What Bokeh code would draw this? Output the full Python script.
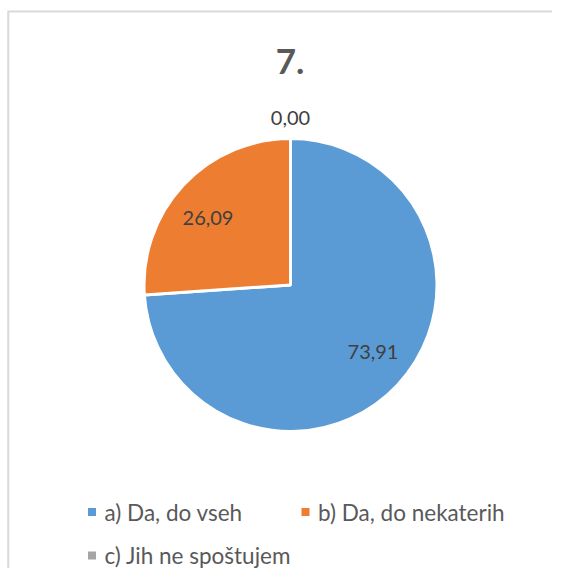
import numpy as np
from bokeh.plotting import figure
from bokeh.models import Range1d, ColumnDataSource
from bokeh.core.properties import value
from bokeh.embed import file_html
from bokeh.resources import INLINE

title = "7."
categories = ["a) Da, do vseh", "b) Da, do nekaterih", "c) Jih ne spoštujem"]
values = [73.91, 26.09, 0.00]
labels = ["73,91", "26,09", "0,00"]
colors = ["#5B9BD5", "#ED7D31", "#A5A5A5"]

W, H = 552, 568
FONT = "Lato"
OX, OY = 7, -7  # layout offset

p = figure(width=W, height=H, output_backend="svg", toolbar_location=None,
           x_range=Range1d(0, W), y_range=Range1d(0, H), min_border=0)
p.axis.visible = False
p.grid.visible = False
p.outline_line_color = None
p.background_fill_color = "white"
p.border_fill_color = "white"

# chart frame (top and left edges visible)
p.line(x=[0.75 + OX, 0.75 + OX], y=[0, 564 + OY], line_color="#D9D9D9", line_width=2)
p.line(x=[OX, W], y=[564 + OY, 564 + OY], line_color="#D9D9D9", line_width=2)

# pie
cx, cy, R = 283 + OX, 290.5 + OY, 146.5
vals = np.array(values, dtype=float)
frac = vals / vals.sum()
ends = np.pi / 2 - 2 * np.pi * np.cumsum(frac)
starts = np.concatenate([[np.pi / 2], ends[:-1]])
nz = frac > 0
src = ColumnDataSource(dict(start=starts[nz], end=ends[nz], color=np.array(colors)[nz]))
p.wedge(x=cx, y=cy, radius=R, radius_units="screen", start_angle="start", end_angle="end",
        direction="clock", fill_color="color", line_color="white", line_width=3, source=src)

# data labels
shift = np.deg2rad(4)
lx, ly = [], []
for s, e, f in zip(starts, ends, frac):
    mid = (s + e) / 2
    if f == 0:
        r = R + 21
        a = mid
    else:
        r = 0.725 * R
        a = mid + shift
    lx.append(cx + r * np.cos(a))
    ly.append(cy + r * np.sin(a))
p.text(x=lx, y=ly, text=labels, text_align="center", text_baseline="middle",
       text_font=value(FONT), text_font_size="20px", text_color="#404040")

# title
p.text(x=[282.5 + OX], y=[514 + OY], text=[title], text_align="center", text_baseline="middle",
       text_font=value(FONT), text_font_size="35px", text_font_style="bold", text_color="#595959")

# legend
sq_x = [84.5 + OX, 298 + OX, 84.5 + OX]
sq_y = [63.5 + OY, 63.5 + OY, 20 + OY]
p.rect(x=sq_x, y=sq_y, width=8, height=8, width_units="screen", height_units="screen",
       fill_color=colors, line_color=None)
p.text(x=[x + 12.5 for x in sq_x], y=sq_y, text=categories, text_align="left", text_baseline="middle",
       text_font=value(FONT), text_font_size="22.5px", text_color="#595959")

open("out.html", "w").write(file_html(p, INLINE))
